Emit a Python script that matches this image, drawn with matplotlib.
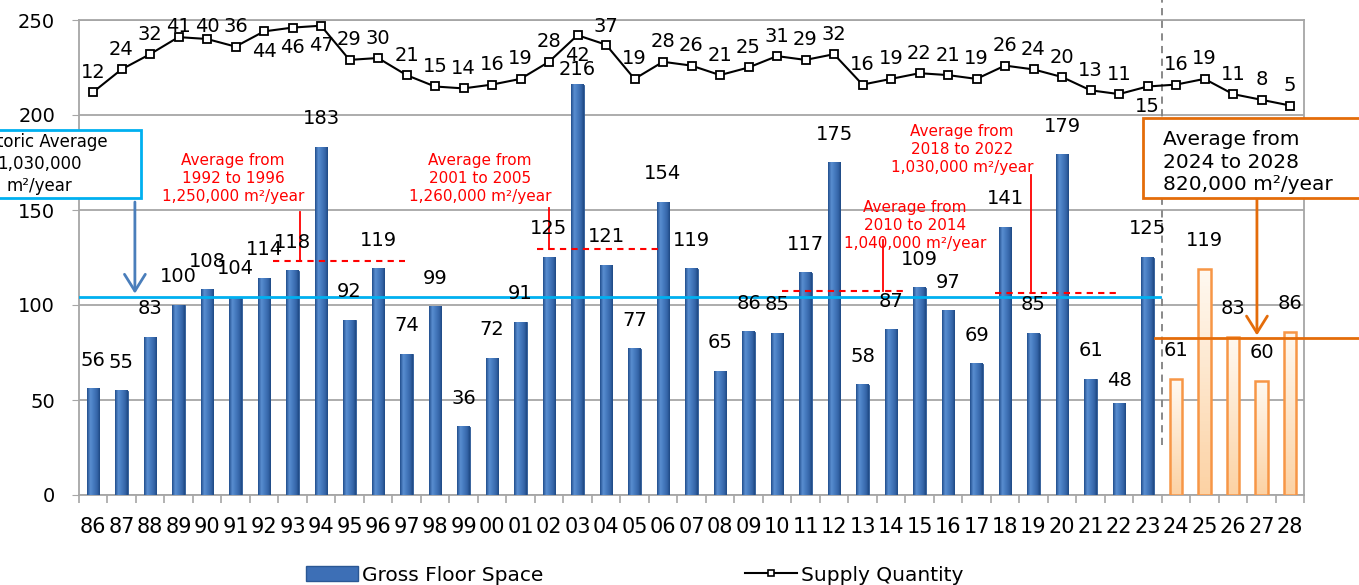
import numpy as np
import matplotlib
matplotlib.use('Agg')
import matplotlib.pyplot as plt
from matplotlib.patches import Rectangle, Patch
from matplotlib.lines import Line2D
from matplotlib.colors import LinearSegmentedColormap

# ---------------- data ----------------
years = ['86', '87', '88', '89', '90', '91', '92', '93', '94', '95', '96', '97', '98', '99',
         '00', '01', '02', '03', '04', '05', '06', '07', '08', '09', '10', '11', '12', '13',
         '14', '15', '16', '17', '18', '19', '20', '21', '22', '23',
         '24', '25', '26', '27', '28']
floor_space = [56, 55, 83, 100, 108, 104, 114, 118, 183, 92, 119, 74, 99, 36,
               72, 91, 125, 216, 121, 77, 154, 119, 65, 86, 85, 117, 175, 58,
               87, 109, 97, 69, 141, 85, 179, 61, 48, 125,
               61, 119, 83, 60, 86]
supply = [12, 24, 32, 41, 40, 36, 44, 46, 47, 29, 30, 21, 15, 14,
          16, 19, 28, 42, 37, 19, 28, 26, 21, 25, 31, 29, 32, 16,
          19, 22, 21, 19, 26, 24, 20, 13, 11, 15,
          16, 19, 11, 8, 5]
n_actual = 38            # 1986-2023 actual, 2024-2028 forecast
supply_offset = 200      # supply quantity drawn on top band of the axis
hist_avg = 104
forecast_avg = 82.5
period_avgs = [123, 129.5, 107.5, 106.5]

plt.rcParams['font.family'] = ['DejaVu Sans']

W, H = 1359, 585
fig = plt.figure(figsize=(W / 100, H / 100), dpi=100)
ax = fig.add_axes([78.75 / W, 90 / H, 1225.5 / W, 475 / H])

x = np.arange(len(years))
bw = 0.45
fs = np.array(floor_space)

# ---------------- bars ----------------
blue_cmap = LinearSegmentedColormap.from_list(
    'b', [(0, '#23508f'), (0.25, '#5a8ed0'), (0.45, '#4a7fc4'), (0.8, '#3565a8'), (1, '#1f4a85')])
orange_cmap = LinearSegmentedColormap.from_list('o', ['#fcd2a4', '#fff9f1'])

bars_a = ax.bar(x[:n_actual], fs[:n_actual], width=bw, color='#3d6fb6',
                edgecolor='#2a5794', linewidth=0.6, zorder=3)
bars_f = ax.bar(x[n_actual:], fs[n_actual:], width=bw, color='none',
                edgecolor='#f79646', linewidth=1.8, zorder=4)

hgrad = np.linspace(0, 1, 32).reshape(1, -1)
vgrad = np.linspace(0, 1, 64).reshape(-1, 1)
for b in bars_a:
    x0, h, w = b.get_x(), b.get_height(), b.get_width()
    ax.imshow(hgrad, extent=[x0, x0 + w, 0, h], cmap=blue_cmap, aspect='auto',
              origin='lower', zorder=3.2)
for b in bars_f:
    x0, h, w = b.get_x(), b.get_height(), b.get_width()
    ax.imshow(vgrad, extent=[x0, x0 + w, 0, h], cmap=orange_cmap, aspect='auto',
              origin='lower', zorder=3.2)

# bar value labels
for i, v in enumerate(floor_space):
    off = 15
    if v == 216:
        off = 8
    if i == 36:
        off = 12
    ax.text(i, v + off, str(v), ha='center', va='center', fontsize=14, zorder=6)

# ---------------- supply line ----------------
sy = np.array(supply) + supply_offset
ax.plot(x, sy, color='black', lw=1.5, marker='s', ms=5.5, mfc='white', mec='black',
        mew=1.3, zorder=7, clip_on=False)
below = {6, 7, 8, 17, 37}
for i, v in enumerate(supply):
    if i in below:
        ty = sy[i] - 10.5
    else:
        ty = min(sy[i] + 10.5, 246.5)
    ax.text(i, ty, str(v), ha='center', va='center', fontsize=14, zorder=8)

# ---------------- axes styling ----------------
ax.set_xlim(-0.5, len(years) - 0.5)
ax.set_ylim(0, 250)
ax.set_yticks(np.arange(0, 251, 50))
ax.tick_params(axis='y', labelsize=14, length=5, color='#a6a6a6', pad=12)
ax.set_xticks(x)
ax.set_xticklabels(years, fontsize=15)
ax.set_xticks(np.arange(-0.5, len(years), 1), minor=True)
ax.tick_params(axis='x', which='major', length=0, pad=16)
ax.tick_params(axis='x', which='minor', length=6, color='#a6a6a6', width=1.2)
ax.grid(axis='y', color='#a6a6a6', lw=1.3, zorder=0)
ax.set_axisbelow(True)
for s in ax.spines.values():
    s.set_color('#a6a6a6')
    s.set_linewidth(1.3)

# ---------------- annotations ----------------
# forecast separator
ax.plot([37.5, 37.5], [26.3, 260.5], color='#808080', ls=(0, (4, 3)), lw=1.3,
        clip_on=False, zorder=5)

# historic average line
ax.plot([-0.5, 37.44], [hist_avg, hist_avg], color='#00b0f0', lw=2, zorder=5)
ax.annotate('', xy=(1.47, hist_avg + 2), xytext=(1.47, 154.2),
            arrowprops=dict(arrowstyle='->,head_length=0.8,head_width=0.5',
                            color='#4a7ebb', lw=2, mutation_scale=15,
                            shrinkA=0, shrinkB=0), zorder=6)
fig.add_artist(Rectangle((-40 / W, 1 - 198 / H), 181 / W, 68 / H, transform=fig.transFigure,
                         facecolor='white', edgecolor='#00b0f0', lw=2, zorder=10))
fig.text(39.5 / W, 1 - 164 / H, 'Historic Average\n1,030,000\nm²/year', ha='center',
         va='center', fontsize=12, linespacing=1.32, zorder=11)

# period averages (red)
periods = [
    ((6.32, 10.95), 7.26, 148.9, (4.91, 166.8), 'Average from\n1992 to 1996\n1,250,000 m²/year'),
    ((15.58, 20.0), 16.0, 151.0, (13.58, 166.8), 'Average from\n2001 to 2005\n1,260,000 m²/year'),
    ((24.18, 28.6), 27.72, 134.2, (28.84, 142.1), 'Average from\n2010 to 2014\n1,040,000 m²/year'),
    ((31.65, 36.04), 32.91, 168.4, (30.49, 181.6), 'Average from\n2018 to 2022\n1,030,000 m²/year'),
]
for (xs, vx, vtop, (tx, ty), txt), avg in zip(periods, period_avgs):
    ax.plot(xs, [avg, avg], color='red', ls=(0, (3, 2.5)), lw=1.5, zorder=5.5)
    ax.plot([vx, vx], [avg, vtop], color='red', lw=1.3, zorder=5.5)
    ax.text(tx, ty, txt, color='red', fontsize=11, ha='center', va='center',
            linespacing=1.25, zorder=6)

# forecast average (orange)
ax.plot([37.26, 44.4], [forecast_avg, forecast_avg], color='#e46c0a', lw=2,
        clip_on=False, zorder=5)
ax.annotate('', xy=(40.84, forecast_avg + 1.5), xytext=(40.84, 156.3),
            arrowprops=dict(arrowstyle='->,head_length=0.8,head_width=0.5',
                            color='#e46c0a', lw=2, mutation_scale=15,
                            shrinkA=0, shrinkB=0), zorder=6)
fig.add_artist(Rectangle((1143 / W, 1 - 198 / H), 230 / W, 80 / H, transform=fig.transFigure,
                         facecolor='white', edgecolor='#e46c0a', lw=2, zorder=10))
fig.text(1163 / W, 1 - 162 / H, 'Average from\n2024 to 2028\n820,000 m²/year', ha='left',
         va='center', fontsize=14.5, linespacing=1.22, zorder=11)

# ---------------- legend ----------------
handles = [Patch(facecolor='#3d6fb6', edgecolor='#2a5794', label='Gross Floor Space'),
           Line2D([0], [0], color='black', lw=1.5, marker='s', ms=5, mfc='white',
                  mec='black', mew=1.2, label='Supply Quantity')]
fig.legend(handles=handles, loc='center', bbox_to_anchor=(0.467, 0.017), ncol=2,
           frameon=False, fontsize=14.5, handlelength=2.6, handleheight=0.8,
           columnspacing=10, handletextpad=0.2)

fig.savefig('out.png', dpi=100)
